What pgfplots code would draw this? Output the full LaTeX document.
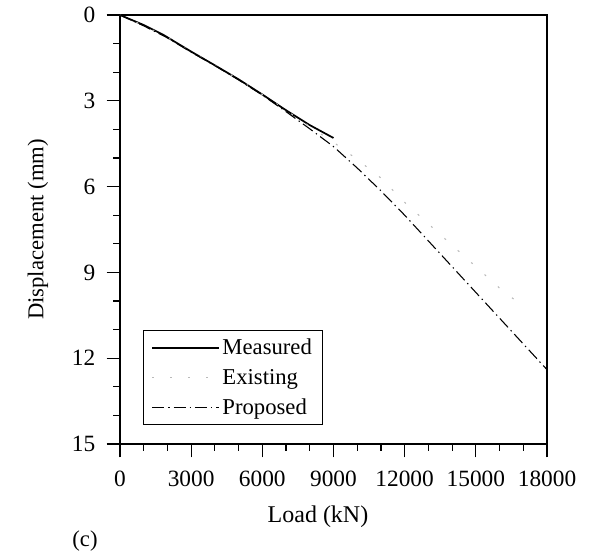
\documentclass[border=0pt]{standalone}
\usepackage{fontspec}
\setmainfont{Liberation Serif}
\usepackage{pgfplots}
\pgfplotsset{compat=1.18}
\begin{document}
\begin{tikzpicture}
\begin{axis}[
  at={(0,0)}, anchor=south west,
  scale only axis,
  width=320.25pt, height=321.75pt,
  xmin=0, xmax=18000, ymin=0, ymax=15,
  y dir=reverse,
  xtick={0,3000,...,18000}, ytick={0,3,...,15},
  minor tick num=2,
  xtick pos=left, ytick pos=left,
  tick align=outside,
  major tick length=10pt, minor tick length=5pt,
  every tick/.style={black, line width=0.9pt},
  axis line style={line width=1pt},
  /pgf/number format/assume math mode=true,
  /pgf/number format/1000 sep={},
  scaled x ticks=false,
  tick label style={font=\fontsize{17.5}{20}\selectfont},
  xticklabel style={yshift=-7pt},
  yticklabel style={xshift=-5pt},
  xlabel={Load (kN)}, ylabel={Displacement (mm)},
  every axis x label/.style={at={(rel axis cs:0.4637,-0.1702)}, anchor=center, font=\fontsize{18}{21}\selectfont},
  every axis y label/.style={at={(rel axis cs:-0.1921,0.5)}, rotate=90, anchor=center, font=\fontsize{17}{20}\selectfont},
  clip=false,
  legend cell align=left,
  legend style={at={(rel axis cs:0.0539,0.0443)}, anchor=south west,
    draw=black, line width=0.6pt, font=\fontsize{17}{20}\selectfont,
    row sep=5.5pt, inner xsep=6pt, inner ysep=4pt},
  legend image code/.code={\draw[#1] (0pt,0pt) -- (50pt,0pt);},
]
\addplot[black, line width=1.3pt] coordinates {
(0,0) (1000,0.35) (1800,0.68) (3000,1.28) (4000,1.76) (5000,2.25)
(6000,2.78) (7000,3.33) (8000,3.85) (9000,4.3)};
\addlegendentry{Measured}
\addplot[gray!55, line width=0.8pt, dash pattern=on 1.5pt off 12pt] coordinates {
(0,0) (1000,0.37) (2000,0.78) (3000,1.29) (4000,1.76) (5000,2.25)
(6000,2.78) (7000,3.33) (8000,3.9) (9000,4.45) (10000,5.05) (11000,5.7)
(12000,6.55) (13000,7.3) (14000,8.05) (15000,8.8) (16000,9.55) (16700,10.0)};
\addlegendentry{Existing}
\addplot[black, line width=0.8pt, dash pattern=on 9pt off 3pt on 1pt off 3pt] coordinates {
(0,0) (1000,0.38) (2000,0.8) (3000,1.3) (4000,1.77) (5000,2.27) (6000,2.8)
(7000,3.38) (8000,3.98) (9000,4.6) (10000,5.35) (11000,6.15) (12000,7.0)
(13000,7.9) (14000,8.8) (15000,9.7) (16000,10.6) (17000,11.5) (18000,12.4)};
\addlegendentry{Proposed}
\node[font=\fontsize{17}{20}\selectfont] at (rel axis cs:-0.082,-0.2261) {(c)};
\end{axis}
\path[use as bounding box] (-90pt,-84pt) rectangle (351.75pt,333pt);
\end{tikzpicture}
\end{document}
